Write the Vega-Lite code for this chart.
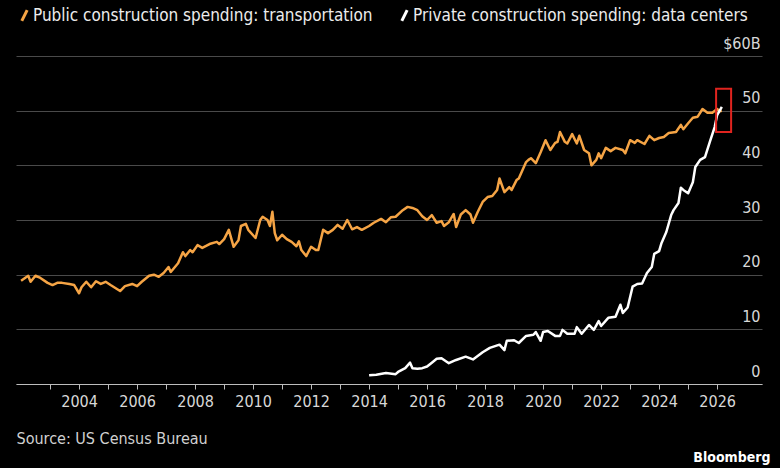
{
  "$schema": "https://vega.github.io/schema/vega-lite/v6.json",
  "width": 746,
  "height": 328,
  "autosize": {"type": "none"},
  "padding": {"left": 16, "top": 56, "right": 18, "bottom": 84},
  "background": "#000000",
  "config": {
    "view": {"stroke": null},
    "font": "DejaVu Sans Condensed, Liberation Sans Narrow, Roboto, sans-serif"
  },
  "datasets": {
    "transport": [
      {"t": "2002-01-01", "v": 18.9}, {"t": "2002-04-01", "v": 19.8}, {"t": "2002-05-01", "v": 18.7}, {"t": "2002-07-01", "v": 19.8},
      {"t": "2002-09-01", "v": 19.4}, {"t": "2002-12-01", "v": 18.5}, {"t": "2003-02-01", "v": 18.1}, {"t": "2003-04-01", "v": 18.5},
      {"t": "2003-06-01", "v": 18.5}, {"t": "2003-09-01", "v": 18.3}, {"t": "2003-11-01", "v": 18.1}, {"t": "2004-01-01", "v": 16.6},
      {"t": "2004-02-01", "v": 17.7}, {"t": "2004-04-01", "v": 18.7}, {"t": "2004-06-01", "v": 17.7}, {"t": "2004-08-01", "v": 18.8},
      {"t": "2004-10-01", "v": 18.3}, {"t": "2004-12-01", "v": 18.7}, {"t": "2005-02-01", "v": 18.1}, {"t": "2005-06-01", "v": 17.0},
      {"t": "2005-08-01", "v": 17.9}, {"t": "2005-11-01", "v": 18.3}, {"t": "2006-01-01", "v": 17.9}, {"t": "2006-03-01", "v": 18.7},
      {"t": "2006-06-01", "v": 19.8}, {"t": "2006-08-01", "v": 20.0}, {"t": "2006-10-01", "v": 19.6}, {"t": "2006-12-01", "v": 20.3},
      {"t": "2007-02-01", "v": 21.4}, {"t": "2007-03-01", "v": 20.5}, {"t": "2007-06-01", "v": 22.1}, {"t": "2007-08-01", "v": 24.1},
      {"t": "2007-09-01", "v": 23.4}, {"t": "2007-11-01", "v": 24.5}, {"t": "2007-12-01", "v": 24.1}, {"t": "2008-02-01", "v": 25.4},
      {"t": "2008-04-01", "v": 24.9}, {"t": "2008-07-01", "v": 25.6}, {"t": "2008-10-01", "v": 26.0}, {"t": "2008-11-01", "v": 25.6},
      {"t": "2009-01-01", "v": 26.5}, {"t": "2009-03-01", "v": 28.2}, {"t": "2009-05-01", "v": 25.1}, {"t": "2009-07-01", "v": 26.3},
      {"t": "2009-08-01", "v": 28.9}, {"t": "2009-10-01", "v": 29.3}, {"t": "2009-11-01", "v": 28.2}, {"t": "2010-02-01", "v": 26.7},
      {"t": "2010-04-01", "v": 30.0}, {"t": "2010-05-01", "v": 30.6}, {"t": "2010-07-01", "v": 30.0}, {"t": "2010-08-01", "v": 28.9},
      {"t": "2010-09-01", "v": 31.5}, {"t": "2010-10-01", "v": 27.6}, {"t": "2010-11-01", "v": 26.3}, {"t": "2011-01-01", "v": 27.3},
      {"t": "2011-03-01", "v": 26.5}, {"t": "2011-05-01", "v": 26.0}, {"t": "2011-07-01", "v": 25.2}, {"t": "2011-08-01", "v": 26.1},
      {"t": "2011-09-01", "v": 24.5}, {"t": "2011-11-01", "v": 23.4}, {"t": "2012-01-01", "v": 25.1}, {"t": "2012-03-01", "v": 24.5},
      {"t": "2012-04-01", "v": 24.5}, {"t": "2012-06-01", "v": 28.2}, {"t": "2012-08-01", "v": 27.6}, {"t": "2012-10-01", "v": 28.2},
      {"t": "2012-12-01", "v": 29.1}, {"t": "2013-02-01", "v": 28.4}, {"t": "2013-04-01", "v": 30.0}, {"t": "2013-06-01", "v": 28.3},
      {"t": "2013-08-01", "v": 28.7}, {"t": "2013-10-01", "v": 28.2}, {"t": "2014-01-01", "v": 28.9}, {"t": "2014-03-01", "v": 29.5},
      {"t": "2014-06-01", "v": 30.2}, {"t": "2014-08-01", "v": 29.6}, {"t": "2014-10-01", "v": 30.5}, {"t": "2014-12-01", "v": 30.6},
      {"t": "2015-03-01", "v": 31.8}, {"t": "2015-05-01", "v": 32.4}, {"t": "2015-07-01", "v": 32.2}, {"t": "2015-09-01", "v": 31.8},
      {"t": "2015-11-01", "v": 30.7}, {"t": "2016-01-01", "v": 30.0}, {"t": "2016-03-01", "v": 30.9}, {"t": "2016-05-01", "v": 29.5},
      {"t": "2016-07-01", "v": 29.8}, {"t": "2016-08-01", "v": 28.9}, {"t": "2016-10-01", "v": 29.6}, {"t": "2016-12-01", "v": 31.1},
      {"t": "2017-01-01", "v": 28.7}, {"t": "2017-03-01", "v": 31.0}, {"t": "2017-05-01", "v": 31.8}, {"t": "2017-07-01", "v": 31.0},
      {"t": "2017-08-01", "v": 29.5}, {"t": "2017-10-01", "v": 31.5}, {"t": "2017-12-01", "v": 33.3}, {"t": "2018-02-01", "v": 34.2},
      {"t": "2018-04-01", "v": 34.4}, {"t": "2018-06-01", "v": 35.5}, {"t": "2018-07-01", "v": 37.6}, {"t": "2018-09-01", "v": 35.1},
      {"t": "2018-11-01", "v": 36.0}, {"t": "2018-12-01", "v": 35.5}, {"t": "2019-02-01", "v": 37.3}, {"t": "2019-03-01", "v": 37.6},
      {"t": "2019-06-01", "v": 40.6}, {"t": "2019-07-01", "v": 41.0}, {"t": "2019-08-01", "v": 41.3}, {"t": "2019-10-01", "v": 40.4},
      {"t": "2019-12-01", "v": 42.4}, {"t": "2020-02-01", "v": 44.6}, {"t": "2020-04-01", "v": 42.8}, {"t": "2020-06-01", "v": 44.1},
      {"t": "2020-07-01", "v": 44.3}, {"t": "2020-08-01", "v": 46.1}, {"t": "2020-10-01", "v": 44.3}, {"t": "2020-11-01", "v": 44.0},
      {"t": "2021-01-01", "v": 45.7}, {"t": "2021-03-01", "v": 44.0}, {"t": "2021-04-01", "v": 45.4}, {"t": "2021-06-01", "v": 42.8},
      {"t": "2021-08-01", "v": 42.2}, {"t": "2021-09-01", "v": 40.0}, {"t": "2021-11-01", "v": 41.0}, {"t": "2021-12-01", "v": 42.2},
      {"t": "2022-01-01", "v": 41.3}, {"t": "2022-03-01", "v": 43.2}, {"t": "2022-05-01", "v": 42.6}, {"t": "2022-07-01", "v": 43.2},
      {"t": "2022-10-01", "v": 42.8}, {"t": "2022-11-01", "v": 42.2}, {"t": "2023-01-01", "v": 44.6}, {"t": "2023-03-01", "v": 44.1},
      {"t": "2023-04-01", "v": 44.6}, {"t": "2023-07-01", "v": 43.9}, {"t": "2023-09-01", "v": 45.4}, {"t": "2023-11-01", "v": 44.6},
      {"t": "2024-01-01", "v": 45.0}, {"t": "2024-03-01", "v": 45.2}, {"t": "2024-05-01", "v": 45.9}, {"t": "2024-08-01", "v": 46.1},
      {"t": "2024-10-01", "v": 47.4}, {"t": "2024-11-01", "v": 46.6}, {"t": "2025-01-01", "v": 47.7}, {"t": "2025-03-01", "v": 48.7},
      {"t": "2025-05-01", "v": 48.9}, {"t": "2025-07-01", "v": 50.3}, {"t": "2025-09-01", "v": 49.6}, {"t": "2025-11-01", "v": 49.6},
      {"t": "2026-01-01", "v": 50.3}, {"t": "2026-02-01", "v": 49.9}, {"t": "2026-03-01", "v": 50.0}
    ],
    "datacenters": [
      {"t": "2014-01-01", "v": 1.6}, {"t": "2014-04-01", "v": 1.7}, {"t": "2014-08-01", "v": 2.0}, {"t": "2014-12-01", "v": 1.8},
      {"t": "2015-01-01", "v": 2.2}, {"t": "2015-04-01", "v": 2.9}, {"t": "2015-06-01", "v": 3.9}, {"t": "2015-07-01", "v": 2.9},
      {"t": "2015-09-01", "v": 2.8}, {"t": "2015-11-01", "v": 2.9}, {"t": "2016-01-01", "v": 3.2}, {"t": "2016-03-01", "v": 3.9},
      {"t": "2016-05-01", "v": 4.6}, {"t": "2016-07-01", "v": 4.7}, {"t": "2016-10-01", "v": 3.8}, {"t": "2017-01-01", "v": 4.4},
      {"t": "2017-05-01", "v": 5.0}, {"t": "2017-08-01", "v": 4.5}, {"t": "2017-12-01", "v": 5.8}, {"t": "2018-03-01", "v": 6.6},
      {"t": "2018-07-01", "v": 7.2}, {"t": "2018-09-01", "v": 6.2}, {"t": "2018-10-01", "v": 7.9}, {"t": "2019-01-01", "v": 8.0},
      {"t": "2019-03-01", "v": 7.5}, {"t": "2019-06-01", "v": 8.8}, {"t": "2019-09-01", "v": 9.0}, {"t": "2019-10-01", "v": 9.5},
      {"t": "2019-12-01", "v": 7.9}, {"t": "2020-01-01", "v": 9.5}, {"t": "2020-03-01", "v": 9.7}, {"t": "2020-06-01", "v": 8.8},
      {"t": "2020-08-01", "v": 8.8}, {"t": "2020-09-01", "v": 9.9}, {"t": "2020-11-01", "v": 9.2}, {"t": "2021-02-01", "v": 9.2},
      {"t": "2021-03-01", "v": 10.4}, {"t": "2021-05-01", "v": 9.2}, {"t": "2021-08-01", "v": 10.8}, {"t": "2021-10-01", "v": 9.9},
      {"t": "2021-12-01", "v": 11.5}, {"t": "2022-01-01", "v": 10.6}, {"t": "2022-04-01", "v": 12.1}, {"t": "2022-07-01", "v": 12.3},
      {"t": "2022-09-01", "v": 14.5}, {"t": "2022-10-01", "v": 13.0}, {"t": "2022-12-01", "v": 14.0}, {"t": "2023-02-01", "v": 17.8},
      {"t": "2023-04-01", "v": 18.3}, {"t": "2023-06-01", "v": 18.4}, {"t": "2023-08-01", "v": 20.3}, {"t": "2023-10-01", "v": 21.4},
      {"t": "2023-11-01", "v": 23.8}, {"t": "2024-01-01", "v": 24.3}, {"t": "2024-02-01", "v": 25.8}, {"t": "2024-04-01", "v": 27.8},
      {"t": "2024-06-01", "v": 30.9}, {"t": "2024-07-01", "v": 31.8}, {"t": "2024-09-01", "v": 33.1}, {"t": "2024-10-01", "v": 35.9},
      {"t": "2024-11-01", "v": 35.5}, {"t": "2025-01-01", "v": 34.9}, {"t": "2025-03-01", "v": 36.9}, {"t": "2025-04-01", "v": 39.7},
      {"t": "2025-06-01", "v": 41.0}, {"t": "2025-08-01", "v": 41.5}, {"t": "2025-10-01", "v": 44.3}, {"t": "2025-12-01", "v": 47.0},
      {"t": "2026-01-01", "v": 49.2}, {"t": "2026-03-01", "v": 50.7}
    ],
    "highlight": [
      {"t": "2025-12-19", "t2": "2026-06-26", "lo": 46.1, "hi": 54.0}
    ]
  },
  "encoding": {
    "x": {
      "field": "t",
      "type": "temporal",
      "scale": {
        "type": "utc",
        "domain": [
          {"year": 2001, "month": 10, "date": 29, "utc": true},
          {"year": 2027, "month": 7, "date": 20, "utc": true}
        ]
      },
      "axis": {
        "title": "Source: US Census Bureau",
        "titleX": 0,
        "titleY": 54,
        "titleAlign": "left",
        "titleAnchor": "start",
        "titleBaseline": "middle",
        "titleColor": "#d0d0d0",
        "titleFontSize": 16,
        "titleFontWeight": "normal",
        "values": [
          {"year": 2003, "utc": true}, {"year": 2004, "utc": true}, {"year": 2005, "utc": true}, {"year": 2006, "utc": true},
          {"year": 2007, "utc": true}, {"year": 2008, "utc": true}, {"year": 2009, "utc": true}, {"year": 2010, "utc": true},
          {"year": 2011, "utc": true}, {"year": 2012, "utc": true}, {"year": 2013, "utc": true}, {"year": 2014, "utc": true},
          {"year": 2015, "utc": true}, {"year": 2016, "utc": true}, {"year": 2017, "utc": true}, {"year": 2018, "utc": true},
          {"year": 2019, "utc": true}, {"year": 2020, "utc": true}, {"year": 2021, "utc": true}, {"year": 2022, "utc": true},
          {"year": 2023, "utc": true}, {"year": 2024, "utc": true}, {"year": 2025, "utc": true}, {"year": 2026, "utc": true}
        ],
        "labelExpr": "utcyear(datum.value) % 2 == 0 ? utcFormat(datum.value, '%Y') : ''",
        "grid": false,
        "domainColor": "#bdbdbd",
        "domainWidth": 1,
        "tickColor": "#bdbdbd",
        "tickSize": 5,
        "labelColor": "#d8d8d8",
        "labelFontSize": 16,
        "labelPadding": 4,
        "labelOverlap": false,
        "labelFlush": false
      }
    },
    "y": {
      "field": "v",
      "type": "quantitative",
      "scale": {"domain": [0, 60], "nice": false},
      "axis": {
        "orient": "right",
        "title": "Bloomberg",
        "titleAngle": 0,
        "titleAlign": "right",
        "titleBaseline": "middle",
        "titleX": 8,
        "titleY": 401,
        "titleColor": "#ffffff",
        "titleFontSize": 14,
        "titleFontWeight": "bold",
        "values": [0, 10, 20, 30, 40, 50, 60],
        "labelExpr": "datum.value == 60 ? '$60B' : datum.label",
        "domain": false,
        "ticks": false,
        "tickSize": 0,
        "labelPadding": -2,
        "labelAlign": "right",
        "labelBaseline": "bottom",
        "labelOffset": -5,
        "labelColor": "#d8d8d8",
        "labelFontSize": 16,
        "grid": true,
        "gridColor": "#4a4a4a",
        "gridWidth": 1
      }
    }
  },
  "layer": [
    {
      "data": {"name": "transport"},
      "mark": {"type": "line", "strokeWidth": 2.5, "strokeJoin": "round"},
      "encoding": {
        "color": {
          "datum": "Public construction spending: transportation",
          "scale": {
            "domain": ["Public construction spending: transportation", "Private construction spending: data centers"],
            "range": ["#f5a445", "#ffffff"]
          },
          "legend": {
            "title": null,
            "orient": "none",
            "direction": "horizontal",
            "legendX": 0,
            "legendY": -49,
            "symbolType": "M-0.4,0.8L0.4,-0.8",
            "symbolSize": 180,
            "symbolStrokeWidth": 3,
            "labelColor": "#ececec",
            "labelFontSize": 17,
            "labelOffset": 0,
            "labelLimit": 500,
            "columnPadding": 22
          }
        }
      }
    },
    {
      "data": {"name": "datacenters"},
      "mark": {"type": "line", "strokeWidth": 2.5, "strokeJoin": "round"},
      "encoding": {
        "color": {"datum": "Private construction spending: data centers"}
      }
    },
    {
      "data": {"name": "highlight"},
      "mark": {"type": "rect", "fill": null, "stroke": "#e0241f", "strokeWidth": 2},
      "encoding": {
        "x": {"field": "t", "type": "temporal"},
        "x2": {"field": "t2"},
        "y": {"field": "lo", "type": "quantitative"},
        "y2": {"field": "hi"}
      }
    }
  ]
}
